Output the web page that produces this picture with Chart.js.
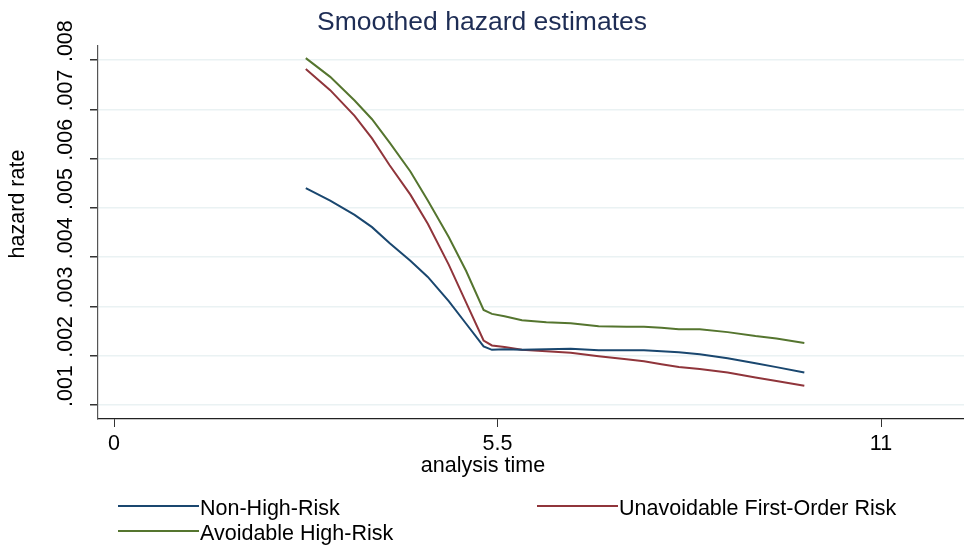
<!DOCTYPE html>
<html>
<head>
<meta charset="utf-8">
<script src="https://cdn.jsdelivr.net/npm/chart.js@4.4.0/dist/chart.umd.min.js"></script>
<style>
  html, body { margin: 0; padding: 0; background: #ffffff; }
</style>
</head>
<body>
<canvas id="hazardChart" width="964" height="550"></canvas>
<script>
const times = [2.75, 3.1, 3.45, 3.7, 3.95, 4.25, 4.5, 4.8, 5.05, 5.3, 5.42, 5.6, 5.85,
  6.2, 6.55, 6.95, 7.35, 7.6, 7.85, 8.1, 8.4, 8.8, 9.2, 9.5, 9.9];

const nonHighRisk = [0.00540, 0.00515, 0.00486, 0.00461, 0.00429, 0.00393, 0.00360, 0.00311,
  0.00265, 0.00219, 0.00212, 0.00213, 0.00212, 0.00213, 0.00214, 0.00211, 0.00211, 0.00211,
  0.00209, 0.00207, 0.00203, 0.00195, 0.00185, 0.00177, 0.00166];

const unavoidableRisk = [0.00782, 0.00739, 0.00687, 0.00641, 0.00587, 0.00527, 0.00468, 0.00385,
  0.00308, 0.00231, 0.00221, 0.00218, 0.00212, 0.00209, 0.00206, 0.00199, 0.00193, 0.00189,
  0.00183, 0.00177, 0.00173, 0.00166, 0.00156, 0.00149, 0.00139];

const avoidableRisk = [0.00804, 0.00766, 0.00718, 0.00680, 0.00633, 0.00574, 0.00515, 0.00441,
  0.00372, 0.00293, 0.00285, 0.00280, 0.00272, 0.00268, 0.00266, 0.00260, 0.00259, 0.00259,
  0.00257, 0.00254, 0.00254, 0.00248, 0.00240, 0.00235, 0.00226];

const seriesLabels = ["Non-High-Risk", "Unavoidable First-Order Risk", "Avoidable High-Risk"];
const xTicks = [0, 5.5, 11];
const yTicks = [0.001, 0.002, 0.003, 0.004, 0.005, 0.006, 0.007, 0.008];
const yTickLabels = [".001", ".002", ".003", ".004", ".005", ".006", ".007", ".008"];

const FONT = "'Liberation Sans', Arial, sans-serif";

function toPoints(values) {
  return times.map((t, i) => ({ x: t, y: values[i] }));
}

// stata style text: vertical y labels, centred x title, two column legend
const stataText = {
  id: "stataText",
  afterDraw(chart) {
    const { ctx, scales } = chart;
    const yScale = scales.y;
    ctx.save();
    ctx.fillStyle = "#000000";
    ctx.font = "21.5px " + FONT;

    yTicks.forEach((v, i) => {
      const py = yScale.getPixelForValue(v);
      ctx.save();
      ctx.translate(66, py + 2);
      ctx.rotate(-Math.PI / 2);
      ctx.textAlign = "left";
      ctx.textBaseline = "middle";
      ctx.fillText(yTickLabels[i], 0, 0);
      ctx.restore();
    });

    ctx.save();
    ctx.translate(18, 204);
    ctx.rotate(-Math.PI / 2);
    ctx.textAlign = "center";
    ctx.textBaseline = "middle";
    ctx.fillText("hazard rate", 0, 0);
    ctx.restore();

    ctx.textAlign = "center";
    ctx.textBaseline = "middle";
    ctx.fillText("analysis time", 483, 466);

    // legend
    const slots = [[118, 508], [537, 508], [118, 533]];
    chart.data.datasets.forEach((ds, i) => {
      const [lx, ly] = slots[i];
      ctx.strokeStyle = ds.borderColor;
      ctx.lineWidth = 2;
      ctx.beginPath();
      ctx.moveTo(lx, ly - 2);
      ctx.lineTo(lx + 81, ly - 2);
      ctx.stroke();
      ctx.textAlign = "left";
      ctx.fillText(ds.label, lx + 82, ly + 1);
    });
    ctx.restore();
  }
};

const ctx = document.getElementById("hazardChart").getContext("2d");

new Chart(ctx, {
  type: "line",
  data: {
    datasets: [
      {
        label: seriesLabels[0],
        data: toPoints(nonHighRisk),
        borderColor: "#1a476f",
        borderWidth: 2,
        pointRadius: 0,
        tension: 0
      },
      {
        label: seriesLabels[1],
        data: toPoints(unavoidableRisk),
        borderColor: "#90353b",
        borderWidth: 2,
        pointRadius: 0,
        tension: 0
      },
      {
        label: seriesLabels[2],
        data: toPoints(avoidableRisk),
        borderColor: "#55752f",
        borderWidth: 2,
        pointRadius: 0,
        tension: 0
      }
    ]
  },
  options: {
    responsive: false,
    animation: false,
    layout: { padding: 0 },
    plugins: {
      legend: { display: false },
      tooltip: { enabled: false },
      title: {
        display: true,
        text: "Smoothed hazard estimates",
        color: "#1e2d55",
        font: { family: FONT, size: 26.5, weight: "normal" },
        padding: { top: 7, bottom: 7 }
      }
    },
    scales: {
      x: {
        type: "linear",
        min: -0.23,
        max: 12.19,
        afterBuildTicks: (scale) => {
          scale.ticks = xTicks.map((v) => ({ value: v }));
        },
        afterFit: (scale) => {
          scale.height = 131;
        },
        ticks: {
          color: "#000000",
          font: { family: FONT, size: 21.5 },
          padding: 4,
          maxRotation: 0,
          callback: (v) => String(v)
        },
        grid: {
          drawOnChartArea: false,
          tickLength: 8,
          tickColor: "#333333"
        },
        border: { color: "#222222", width: 1.2 }
      },
      y: {
        type: "linear",
        min: 0.000717,
        max: 0.00829,
        afterBuildTicks: (scale) => {
          scale.ticks = yTicks.map((v) => ({ value: v }));
        },
        afterFit: (scale) => {
          scale.width = 98;
        },
        ticks: { display: false },
        grid: {
          color: "#eaf2f3",
          lineWidth: 1.5,
          tickLength: 8,
          tickColor: "#333333"
        },
        border: { color: "#555555", width: 1.2 }
      }
    }
  },
  plugins: [stataText]
});
</script>
</body>
</html>
